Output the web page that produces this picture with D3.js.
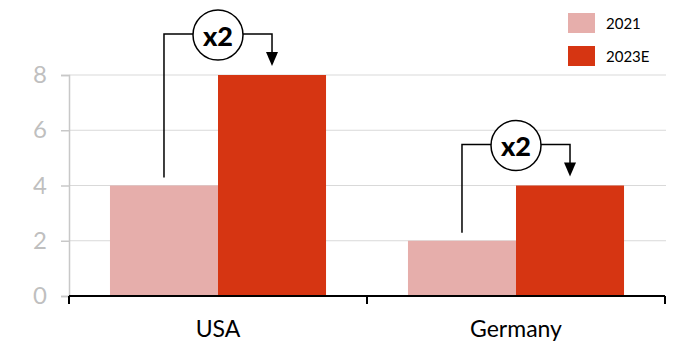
<!DOCTYPE html>
<html>
<head>
<meta charset="utf-8">
<script src="https://cdn.jsdelivr.net/npm/d3@7/dist/d3.min.js"></script>
<style>
  html, body { margin: 0; padding: 0; background: #fff; }
  svg { display: block; font-family: Lato, "Open Sans", sans-serif; }
</style>
</head>
<body>
<svg id="chart" width="674" height="341"></svg>
<script>
// Chart data
const categories = ["USA", "Germany"];
const seriesNames = ["2021", "2023E"];
const values2021 = [4, 2];
const values2023 = [8, 4];
const multipliers = ["x2", "x2"];
const yTicks = [0, 2, 4, 6, 8];
const colors = ["#e6aeab", "#d63512"];

const svg = d3.select("#chart");
const margin = { left: 69, right: 9, top: 75, bottom: 45 };
const W = 674, H = 341;

const x = d3.scaleBand()
  .domain(categories)
  .range([margin.left, W - margin.right])
  .paddingInner(0.275)
  .paddingOuter(0.1375);

const xSub = d3.scaleBand()
  .domain(seriesNames)
  .range([0, x.bandwidth()]);

const y = d3.scaleLinear()
  .domain([0, 8])
  .range([H - margin.bottom, margin.top]);

// Gridlines
svg.append("g")
  .selectAll("line")
  .data(yTicks.filter(d => d > 0))
  .join("line")
  .attr("x1", margin.left).attr("x2", W - margin.right + 1)
  .attr("y1", d => y(d)).attr("y2", d => y(d))
  .attr("stroke", "#d9d9d9").attr("stroke-width", 1);

// Y axis
const yAxis = svg.append("g")
  .attr("transform", `translate(${margin.left},0)`)
  .call(d3.axisLeft(y).tickValues(yTicks).tickSize(8).tickPadding(14));
yAxis.select(".domain").attr("stroke", "#c8c8c8").attr("stroke-width", 1.5);
yAxis.selectAll(".tick line").attr("stroke", "#c8c8c8").attr("stroke-width", 1.5);
yAxis.selectAll(".tick text")
  .attr("fill", "#bfbfbf")
  .style("font-size", "24px")
  .style("font-family", "Lato, sans-serif");

// Bars
const rows = categories.map((c, i) => ({ cat: c, vals: [values2021[i], values2023[i]] }));
const groups = svg.append("g").selectAll("g")
  .data(rows)
  .join("g")
  .attr("transform", d => `translate(${x(d.cat)},0)`);
groups.selectAll("rect")
  .data(d => d.vals.map((v, j) => ({ key: seriesNames[j], v, j })))
  .join("rect")
  .attr("x", d => xSub(d.key))
  .attr("width", xSub.bandwidth())
  .attr("y", d => y(d.v))
  .attr("height", d => y(0) - y(d.v))
  .attr("fill", d => colors[d.j]);

// X axis
const xAxisY = y(0);
const xa = svg.append("g");
xa.append("line")
  .attr("x1", margin.left).attr("x2", W - margin.right)
  .attr("y1", xAxisY).attr("y2", xAxisY)
  .attr("stroke", "#000").attr("stroke-width", 2);
const boundaries = [margin.left, (x(categories[0]) + x.bandwidth() + x(categories[1])) / 2, W - margin.right];
xa.selectAll("line.tick")
  .data(boundaries)
  .join("line")
  .attr("class", "tick")
  .attr("x1", d => d).attr("x2", d => d)
  .attr("y1", xAxisY).attr("y2", xAxisY + 8)
  .attr("stroke", "#000").attr("stroke-width", 2);
xa.selectAll("text")
  .data(categories)
  .join("text")
  .attr("x", d => x(d) + x.bandwidth() / 2)
  .attr("y", 337)
  .attr("text-anchor", "middle")
  .attr("fill", "#000")
  .style("font-size", "23px")
  .text(d => d);

// Growth annotations
const ann = svg.append("g");
rows.forEach((d, i) => {
  const x0 = x(d.cat) + xSub(seriesNames[0]) + xSub.bandwidth() / 2;
  const x1 = x(d.cat) + xSub(seriesNames[1]) + xSub.bandwidth() / 2;
  const xc = x(d.cat) + x.bandwidth() / 2;
  const yTop = y(values2023[i]) - 41;
  const yLeftBottom = y(values2021[i]) - 8;
  const yTip = y(values2023[i]) - 9;
  const r = 25;
  ann.append("path")
    .attr("d", `M${x0},${yLeftBottom}V${yTop}H${xc - r}M${xc + r},${yTop}H${x1}V${yTip - 12}`)
    .attr("fill", "none").attr("stroke", "#000").attr("stroke-width", 1.5);
  ann.append("path")
    .attr("d", `M${x1 - 6},${yTip - 14}L${x1 + 6},${yTip - 14}L${x1},${yTip}Z`)
    .attr("fill", "#000");
  ann.append("circle")
    .attr("cx", xc).attr("cy", yTop + 1).attr("r", r)
    .attr("fill", "#fff").attr("stroke", "#000").attr("stroke-width", 1.5);
  ann.append("text")
    .attr("x", xc).attr("y", yTop + 1)
    .attr("text-anchor", "middle")
    .attr("dominant-baseline", "central")
    .style("font-size", "27px").style("font-weight", "900")
    .text(multipliers[i]);
});

// Legend
const legend = svg.append("g");
seriesNames.forEach((s, i) => {
  const ly = 13 + i * 33;
  legend.append("rect")
    .attr("x", 568).attr("y", ly).attr("width", 27).attr("height", 20)
    .attr("fill", colors[i]);
  legend.append("text")
    .attr("x", 606).attr("y", ly + 10)
    .attr("dominant-baseline", "central")
    .style("font-size", "15px")
    .attr("fill", "#000")
    .text(s);
});
</script>
</body>
</html>
